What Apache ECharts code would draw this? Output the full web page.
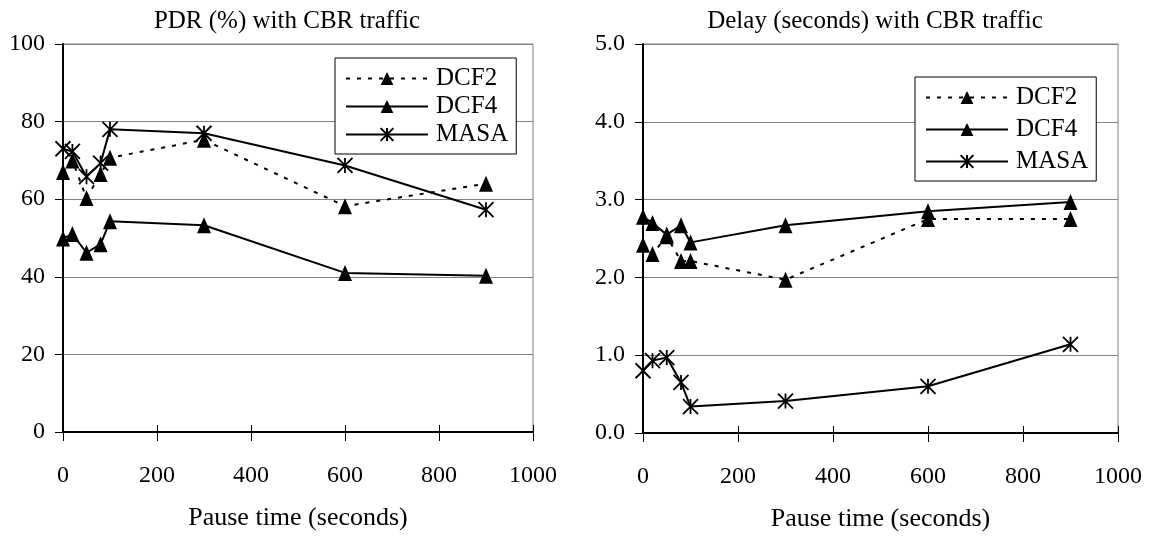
<!DOCTYPE html>
<html>
<head>
<meta charset="utf-8">
<script src="https://cdn.jsdelivr.net/npm/echarts@6/dist/echarts.min.js"></script>
<style>
html,body{margin:0;padding:0;background:#fff;}
#c{width:1156px;height:537px;}
</style>
</head>
<body>
<div id="c"></div>
<script>
// ---- data ----
var pauseTimes = [0, 20, 50, 80, 100, 300, 600, 900];
var pdrDCF2 = [67, 70, 60.3, 66.5, 70.7, 75.3, 58.2, 64];
var pdrDCF4 = [49.9, 51, 46.2, 48.4, 54.3, 53.3, 41, 40.3];
var pdrMASA = [73, 72.3, 65.8, 69.3, 78, 77, 68.7, 57.3];
var delayDCF2 = [2.42, 2.30, 2.53, 2.21, 2.21, 1.97, 2.75, 2.75];
var delayDCF4 = [2.78, 2.70, 2.55, 2.67, 2.45, 2.67, 2.85, 2.97];
var delayMASA = [0.80, 0.93, 0.97, 0.65, 0.34, 0.41, 0.60, 1.14];
var seriesNames = ['DCF2', 'DCF4', 'MASA'];
var titles = ['PDR (%) with CBR traffic', 'Delay (seconds) with CBR traffic'];
var xName = 'Pause time (seconds)';

function pairs(ys) { return pauseTimes.map(function (t, i) { return [t, ys[i]]; }); }

var FONT = '"Liberation Serif", "DejaVu Serif", serif';
var STAR = 'path://M0,0L10,10M10,0L0,10M5,0L5,10';

function mkSeries(name, data, idx) {
  var s = {
    name: name, type: 'line', xAxisIndex: idx * 2, yAxisIndex: idx,
    data: pairs(data), animation: false, silent: true,
    lineStyle: { color: '#000', width: 2 },
    itemStyle: { color: '#000' },
    symbol: 'triangle', symbolSize: [14, 16]
  };
  if (name === 'DCF2') s.lineStyle.type = [4, 7];
  if (name === 'MASA') {
    s.symbol = STAR; s.symbolSize = 15; s.symbolKeepAspect = true;
    s.itemStyle = { color: 'rgba(0,0,0,0)', borderColor: '#000', borderWidth: 1.8 };
  }
  return s;
}

var grids = [
  { left: 63, top: 44, width: 470, height: 388 },
  { left: 643, top: 44, width: 475, height: 390 }
];

var xAxes = [], yAxes = [];
[0, 1].forEach(function (g) {
  xAxes.push({
    type: 'value', gridIndex: g, min: 0, max: 1000, interval: 200,
    name: xName, nameLocation: 'middle', nameGap: 73,
    nameTextStyle: { fontFamily: FONT, fontSize: 26, color: '#000' },
    axisLine: { show: true, lineStyle: { color: '#000', width: 2 } },
    axisTick: { show: true, inside: false, length: 9, lineStyle: { color: '#000', width: 1 } },
    axisLabel: { fontFamily: FONT, fontSize: 24, color: '#000', margin: 32,
      formatter: function (v) { return String(v); } },
    splitLine: { show: false }
  });
  xAxes.push({
    type: 'value', gridIndex: g, min: 0, max: 1000, interval: 200, position: 'bottom',
    axisLine: { show: false },
    axisTick: { show: true, inside: true, length: 7, lineStyle: { color: '#000', width: 1 } },
    axisLabel: { show: false }, splitLine: { show: false }
  });
  yAxes.push({
    type: 'value', gridIndex: g, min: 0, max: g === 0 ? 100 : 5, interval: g === 0 ? 20 : 1,
    axisLine: { show: true, lineStyle: { color: '#000', width: 2 } },
    axisTick: { show: true, inside: false, length: 8, lineStyle: { color: '#000', width: 1 } },
    axisLabel: {
      fontFamily: FONT, fontSize: 24, color: '#000', margin: 18,
      formatter: g === 0 ? function (v) { return String(v); } : function (v) { return v.toFixed(1); }
    },
    splitLine: { show: true, lineStyle: { color: '#808080', width: 1 } }
  });
});

var series = [];
series.push(mkSeries('DCF2', pdrDCF2, 0));
series.push(mkSeries('DCF4', pdrDCF4, 0));
series.push(mkSeries('MASA', pdrMASA, 0));
series.push(mkSeries('DCF2', delayDCF2, 1));
series.push(mkSeries('DCF4', delayDCF4, 1));
series.push(mkSeries('MASA', delayMASA, 1));

function mkLegend(left, top, gap) {
  return {
    data: seriesNames, orient: 'vertical', left: left, top: top,
    itemWidth: 82, itemHeight: 16, itemGap: gap,
    padding: [8, 8, 7, 10],
    borderColor: '#000', borderWidth: 1, backgroundColor: '#fff',
    selectedMode: false,
    textStyle: { fontFamily: FONT, fontSize: 25, color: '#000', lineHeight: 25, padding: [0, 0, 0, 3] }
  };
}

var option = {
  animation: false,
  backgroundColor: '#fff',
  title: [
    { text: titles[0], left: 282, top: 4, textAlign: 'center',
      textStyle: { fontFamily: FONT, fontSize: 25, fontWeight: 'normal', color: '#000' } },
    { text: titles[1], left: 870, top: 4, textAlign: 'center',
      textStyle: { fontFamily: FONT, fontSize: 25, fontWeight: 'normal', color: '#000' } }
  ],
  grid: grids.map(function (g) {
    return Object.assign({ show: true, borderColor: '#808080', borderWidth: 1, backgroundColor: 'transparent' }, g);
  }),
  xAxis: xAxes,
  yAxis: yAxes,
  legend: [mkLegend(335, 58, 3), mkLegend(915, 77, 7)],
  series: series
};

var chart = echarts.init(document.getElementById('c'), null, { renderer: 'canvas' });
chart.setOption(option);
</script>
</body>
</html>
